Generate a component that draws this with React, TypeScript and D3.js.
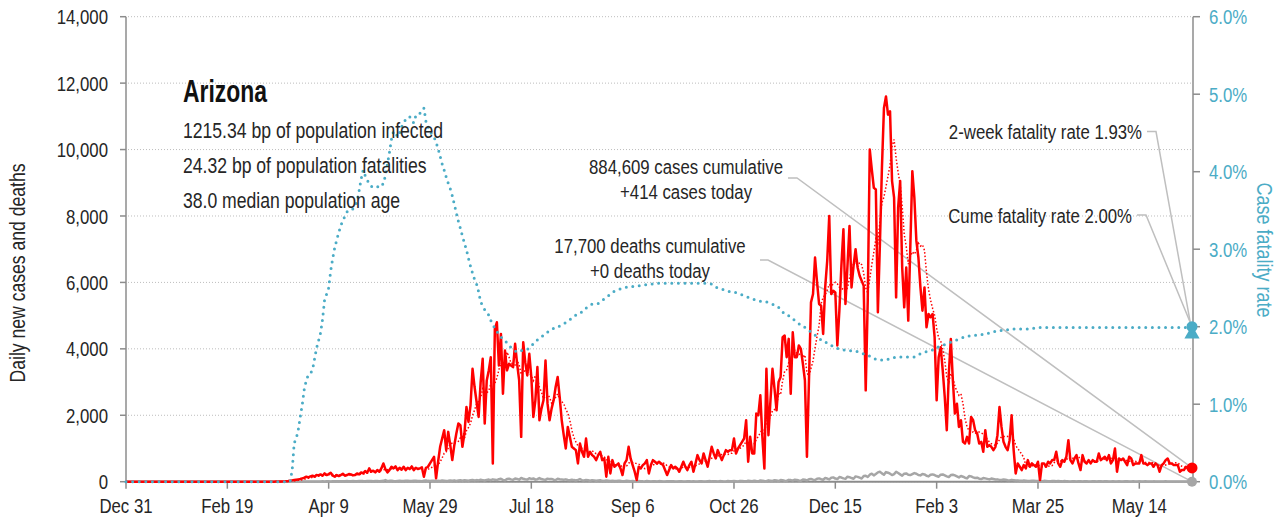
import * as d3 from 'd3'

// Arizona, daily series starting 2019-12-31
const FIRST_DAY = '2019-12-31'

const cases: number[] = [
  0,0,0,0,0,0,0,0,0,0, 0,0,0,0,0,0,0,0,0,0, 0,0,0,0,0,0,0,0,0,0,
  0,0,0,0,0,0,0,0,0,0, 0,0,0,0,0,0,0,0,0,0, 0,0,0,0,0,0,0,0,0,0,
  0,0,0,0,0,0,0,0,0,0,
  0,0,0,2,3,5,5,8,10,15,
  20,30,40,50,60,70,80,100,120,150,
  130,160,180,150,200,190,220,180,250,200,
  230,270,180,150,200,170,200,240,180,200,
  230,220,190,200,250,220,280,250,320,270,
  400,300,330,280,350,300,400,550,380,280,
  350,450,400,460,350,420,360,450,350,420,
  380,460,350,420,380,400,430,150,420,450,
  550,650,750,100,600,1050,1300,1550,950,1500,
  1100,650,1100,1450,1750,1700,1050,1450,2250,1800,
  2300,3400,2850,2400,1950,3000,3700,1750,3050,3350,
  3750,550,4600,4800,3500,4450,2650,3950,3350,3550,
  3500,3450,4150,3550,3050,1350,4200,3600,3200,3850,
  3150,1950,2450,3450,1850,2200,2450,3650,2350,1850,
  2200,2450,2850,3150,2550,1850,1400,1000,1650,1350,
  1050,1000,950,550,1150,900,750,1300,750,900,
  800,750,650,800,900,650,700,150,750,250,
  650,450,500,550,400,200,550,650,1050,700,
  500,300,50,450,400,500,550,650,250,500,
  650,600,550,600,550,500,350,200,350,500,
  400,450,400,300,450,600,450,350,500,600,
  300,550,800,650,550,850,650,450,750,1050,
  850,700,950,800,650,800,950,900,950,950,
  1300,850,1000,1100,1200,1300,1850,600,1350,850,
  850,2050,2000,2600,1350,400,3400,1400,2450,3400,
  2800,2150,3000,3150,4350,4400,3750,4300,2650,4500,
  3750,3750,4100,4000,3550,3050,750,3050,5400,5650,
  6750,6000,5350,5300,4450,5850,6650,8000,5650,5750,
  5700,4100,5150,6500,7600,5350,6500,7700,5850,6500,
  7000,6450,6200,6050,5900,2750,5450,10000,9400,8850,
  8800,5100,7150,9450,11250,11600,11050,11150,9050,8550,
  5550,8250,9050,6450,5250,6450,4850,7050,9350,8550,
  7250,6750,5850,5150,5850,4650,5050,4950,5050,4350,
  2450,3750,4050,3350,2550,1550,3250,4300,3050,2050,
  2350,1650,1850,1200,1150,1350,1150,1950,1850,1550,
  1450,1150,1200,900,1550,1050,1100,1050,950,1050,
  1400,2250,1650,1200,1050,950,1250,2000,950,250,
  550,450,350,500,400,650,450,550,500,450,
  600,50,550,550,450,600,550,650,650,900,
  550,450,650,600,750,1250,650,550,700,800,
  550,350,800,600,550,650,550,650,600,600,
  850,650,700,750,650,800,550,650,1000,300,
  700,650,700,600,500,750,700,500,550,550,
  550,800,550,550,500,550,550,450,550,500,
  300,500,550,650,700,550,550,500,500,500,
  300,350,350,450,400,350,414,
]

const deaths: number[] = [
  0,0,0,0,0,0,0,0,0,0, 0,0,0,0,0,0,0,0,0,0, 0,0,0,0,0,0,0,0,0,0,
  0,0,0,0,0,0,0,0,0,0, 0,0,0,0,0,0,0,0,0,0, 0,0,0,0,0,0,0,0,0,0,
  0,0,0,0,0,0,0,0,0,0, 0,0,0,0,0,0,0,0,0,0,
  1,0,2,1,2,3,2,4,3,5,
  4,6,5,7,8,6,9,10,8,12,
  11,9,14,12,15,10,13,16,12,18,
  14,17,20,15,12,19,22,18,16,21,
  24,19,15,20,23,17,22,26,48,18,
  25,28,21,17,24,30,22,19,27,31,
  23,18,26,29,24,20,15,28,33,25,
  21,30,27,19,32,24,35,30,22,26,
  34,28,40,25,37,42,30,45,38,29,
  44,52,36,48,40,58,47,35,55,63,
  45,70,62,48,75,88,55,40,80,92,
  70,58,95,85,60,110,90,76,64,102,
  85,98,62,75,108,80,66,55,92,78,
  84,60,50,88,72,65,58,70,52,45,
  60,48,38,55,80,42,35,50,44,30,
  46,40,28,35,42,26,20,38,32,24,
  30,22,18,28,25,15,12,26,20,14,
  18,12,8,22,16,10,6,20,14,9,
  15,12,5,18,13,9,4,16,12,10,
  14,8,3,15,11,7,5,13,10,6,
  12,9,4,16,12,8,5,14,18,10,
  15,11,6,18,14,9,7,20,16,12,
  22,15,8,25,18,12,10,28,22,16,
  30,20,12,35,28,18,14,40,32,24,
  45,36,20,50,42,30,22,55,48,35,
  60,52,38,28,65,58,40,72,85,62,
  50,90,100,75,60,110,95,70,120,130,
  95,80,140,125,100,88,150,135,110,90,
  160,145,120,95,170,180,140,210,240,190,
  230,280,300,250,210,290,270,240,200,230,
  300,260,220,180,240,250,210,200,230,260,
  240,200,190,230,220,180,160,210,220,200,
  170,150,210,220,190,160,140,200,210,190,
  160,130,170,150,120,100,170,160,130,110,
  120,90,80,110,100,85,70,95,80,65,
  70,55,50,65,60,45,40,55,45,35,
  40,30,25,38,32,24,20,30,26,18,
  22,18,12,25,20,15,10,22,18,12,
  20,15,10,18,14,10,8,16,14,9,
  15,12,7,14,11,8,5,13,10,7,
  12,10,6,14,11,7,5,12,9,6,
  11,9,5,12,10,6,4,11,8,6,
  10,8,4,12,9,6,3,10,8,5,
  9,7,4,10,8,5,3,9,7,4,
  8,6,3,9,6,4,0,
]

// case fatality rate, percent
const cfr: number[] = [
  0,0,0,0,0,0,0,0,0,0, 0,0,0,0,0,0,0,0,0,0, 0,0,0,0,0,0,0,0,0,0,
  0,0,0,0,0,0,0,0,0,0, 0,0,0,0,0,0,0,0,0,0, 0,0,0,0,0,0,0,0,0,0,
  0,0,0,0,0,0,0,0,0,0, 0,0,0,0,0,0,0,0,0,0,
  0,0,0.15,0.5,0.56,0.67,0.84,1.0,1.2,1.31,
  1.38,1.4,1.44,1.58,1.72,1.82,1.92,2.1,2.35,2.42,
  2.5,2.72,2.88,3.02,3.12,3.22,3.3,3.38,3.42,3.48,
  3.5,3.5,3.52,3.56,3.62,3.75,3.9,4.02,3.95,3.89,
  3.85,3.81,3.8,3.81,3.8,3.82,3.81,3.85,3.95,4.1,
  4.25,4.42,4.52,4.5,4.45,4.5,4.58,4.62,4.68,4.7,
  4.71,4.66,4.63,4.72,4.75,4.75,4.8,4.82,4.65,4.58,
  4.52,4.48,4.45,4.38,4.3,4.2,4.1,4.02,3.93,3.85,
  3.78,3.69,3.58,3.47,3.36,3.27,3.17,3.08,2.99,2.88,
  2.78,2.69,2.61,2.55,2.45,2.32,2.27,2.22,2.19,2.15,
  2.08,2.03,1.98,1.94,1.9,1.87,1.84,1.82,1.79,1.76,
  1.73,1.71,1.69,1.67,1.68,1.69,1.7,1.7,1.71,1.72,
  1.75,1.78,1.81,1.83,1.85,1.87,1.89,1.91,1.93,1.95,
  1.96,1.98,1.98,1.99,2.01,2.02,2.04,2.05,2.07,2.09,
  2.11,2.13,2.15,2.17,2.18,2.19,2.21,2.24,2.26,2.28,
  2.29,2.29,2.29,2.3,2.32,2.34,2.36,2.38,2.4,2.42,
  2.44,2.46,2.47,2.48,2.49,2.5,2.5,2.51,2.51,2.52,
  2.52,2.52,2.53,2.53,2.53,2.53,2.54,2.54,2.54,2.55,
  2.55,2.55,2.56,2.56,2.56,2.56,2.56,2.56,2.56,2.56,
  2.56,2.56,2.56,2.56,2.56,2.56,2.56,2.56,2.56,2.56,
  2.56,2.56,2.56,2.56,2.56,2.56,2.56,2.56,2.56,2.55,
  2.53,2.51,2.5,2.49,2.48,2.48,2.47,2.46,2.45,2.45,
  2.44,2.44,2.43,2.42,2.41,2.4,2.39,2.38,2.37,2.36,
  2.35,2.34,2.34,2.33,2.33,2.32,2.32,2.31,2.3,2.29,
  2.28,2.27,2.25,2.22,2.19,2.17,2.15,2.14,2.12,2.1,
  2.08,2.06,2.04,2.02,2.01,1.99,1.97,1.95,1.93,1.91,
  1.89,1.87,1.85,1.83,1.82,1.8,1.79,1.77,1.76,1.74,
  1.73,1.72,1.71,1.71,1.7,1.7,1.69,1.69,1.69,1.68,
  1.68,1.68,1.67,1.66,1.65,1.64,1.63,1.62,1.6,1.59,
  1.58,1.57,1.57,1.57,1.57,1.57,1.58,1.59,1.6,1.6,
  1.61,1.61,1.61,1.61,1.61,1.61,1.61,1.61,1.61,1.61,
  1.62,1.64,1.65,1.66,1.67,1.68,1.69,1.69,1.7,1.71,
  1.73,1.74,1.75,1.76,1.77,1.78,1.79,1.8,1.81,1.82,
  1.83,1.84,1.85,1.86,1.87,1.87,1.88,1.88,1.89,1.89,
  1.89,1.89,1.9,1.9,1.91,1.91,1.92,1.92,1.93,1.94,
  1.94,1.95,1.95,1.95,1.96,1.96,1.96,1.97,1.97,1.97,
  1.97,1.97,1.97,1.97,1.97,1.97,1.98,1.98,1.98,1.98,
  1.99,1.99,1.99,1.99,1.99,1.99,1.99,1.99,1.99,1.99,
  1.99,1.99,1.99,1.99,1.99,1.99,1.99,1.99,1.99,1.99,
  1.99,1.99,1.99,1.99,1.99,1.99,1.99,1.99,1.99,1.99,
  1.99,1.99,1.99,1.99,1.99,1.99,1.99,1.99,1.99,1.99,
  1.99,1.99,1.99,1.99,1.99,1.99,1.99,1.99,1.99,1.99,
  1.99,1.99,1.99,1.99,1.99,1.99,1.99,1.99,1.99,1.99,
  1.99,1.99,1.99,1.99,1.99,1.99,1.99,1.99,1.99,1.99,
  1.99,1.99,1.99,1.99,1.99,2.0,2.0,
]

const X_TICKS = [
  '2019-12-31', '2020-02-19', '2020-04-09', '2020-05-29', '2020-07-18', '2020-09-06',
  '2020-10-26', '2020-12-15', '2021-02-03', '2021-03-25', '2021-05-14',
]
const Y_LEFT_TICKS = [0, 2000, 4000, 6000, 8000, 10000, 12000, 14000]
const Y_RIGHT_TICKS = [0, 1, 2, 3, 4, 5, 6]

const STATE = 'Arizona'
const INFO_LINES = [
  '1215.34 bp of population infected',
  '24.32 bp of population fatalities',
  '38.0 median population age',
]
const CASES_CUM = 884609
const DEATHS_CUM = 17700
const CFR_2WEEK = 1.93
const CFR_CUME = 2.0

// no narrow font installed, so Liberation Sans gets squeezed horizontally
const FONT = '"Liberation Sans", Arial, sans-serif'
const SQUEEZE = 0.8
const RED = '#FF0000'
const TEAL = '#4BACC6'
const GREY = '#A6A6A6'
const AXIS = '#8C8C8C'
const LEADER = '#BFBFBF'
const INK = '#262626'

type TProps = {
  x: number
  y: number
  size: number
  anchor?: 'start' | 'middle' | 'end'
  fill?: string
  weight?: string
  rotate?: number
  sx?: number
  dy?: string
  children: React.ReactNode
}

function T({ x, y, size, anchor = 'start', fill = INK, weight, rotate, sx = SQUEEZE, dy, children }: TProps) {
  const rot = rotate ? ` rotate(${rotate})` : ''
  return (
    <text transform={`translate(${x},${y})${rot} scale(${sx},1)`} fontSize={size}
      textAnchor={anchor} fill={fill} fontWeight={weight} dy={dy}>
      {children}
    </text>
  )
}

export default function App() {
  const W = 1278
  const H = 525
  const left = 126, right = 1192, top = 16.7, bottom = 481.7

  const parse = d3.timeParse('%Y-%m-%d')
  const start = parse(FIRST_DAY) as Date
  const dates = cases.map((_, i) => d3.timeDay.offset(start, i))
  const last = cases.length - 1

  const x = d3.scaleTime().domain([start, dates[last]]).range([left, right])
  const yL = d3.scaleLinear().domain([0, 14000]).range([bottom, top])
  const yR = d3.scaleLinear().domain([0, 6]).range([bottom, top])

  // trailing 7-day mean of daily cases
  const avg7 = cases.map((_, i) => d3.mean(cases.slice(Math.max(0, i - 6), i + 1)) as number)

  const lineL = d3.line<number>().x((_, i) => x(dates[i])).y((d) => yL(d))
  const lineR = d3.line<number>().x((_, i) => x(dates[i])).y((d) => yR(d))

  const fmtDate = d3.timeFormat('%b %-d')
  const fmtNum = d3.format(',')

  const xe = x(dates[last])
  const caseEnd = yL(cases[last])
  const deathEnd = yL(deaths[last])
  const cumeEnd = yR(CFR_CUME)
  const twoWkEnd = yR(CFR_2WEEK)

  const tri = d3.symbol().type(d3.symbolTriangle).size(100)()

  return (
    <svg width={W} height={H} style={{ position: 'absolute', left: 0, top: 0, background: '#fff', fontFamily: FONT }}>
      {/* grid */}
      {Y_LEFT_TICKS.map((t) => (
        <line key={'g' + t} x1={left + 2} x2={right} y1={yL(t)} y2={yL(t)}
          stroke="#BDBDBD" strokeWidth={1} strokeDasharray="1 2" />
      ))}

      {/* leader lines */}
      <g fill="none" stroke={LEADER} strokeWidth={1.5}>
        <path d={`M788,178H797L${xe},${caseEnd}`} />
        <path d={`M760,260H768L${xe},${deathEnd}`} />
        <path d={`M1147,131.5H1156L${xe},${twoWkEnd}`} />
        <path d={`M1137,215H1146L${xe},${cumeEnd}`} />
      </g>

      {/* axes */}
      <g stroke={AXIS} strokeWidth={1.5}>
        <line x1={left} x2={left} y1={top} y2={bottom} />
        <line x1={right + 1} x2={right + 1} y1={top} y2={bottom} />
        <line x1={left} x2={right + 1} y1={bottom} y2={bottom} strokeWidth={2} />
        {Y_LEFT_TICKS.map((t) => <line key={'lt' + t} x1={left - 6} x2={left} y1={yL(t)} y2={yL(t)} />)}
        {Y_RIGHT_TICKS.map((t) => <line key={'rt' + t} x1={right + 1} x2={right + 8} y1={yR(t)} y2={yR(t)} />)}
        {X_TICKS.map((t) => {
          const xx = x(parse(t) as Date)
          return <line key={'xt' + t} x1={xx} x2={xx} y1={bottom} y2={bottom + 7} />
        })}
      </g>

      {/* series */}
      <path d={lineL(deaths) ?? ''} fill="none" stroke={GREY} strokeWidth={2.5} strokeLinejoin="round" />
      <path d={lineL(cases) ?? ''} fill="none" stroke={RED} strokeWidth={2.5} strokeLinejoin="round" />
      <path d={lineL(avg7) ?? ''} fill="none" stroke={RED} strokeWidth={1.5} strokeDasharray="1.5 2" />
      <path d={lineR(cfr) ?? ''} fill="none" stroke={TEAL} strokeWidth={3} strokeLinecap="round" strokeDasharray="0 6.6" />

      {/* end markers */}
      <circle cx={xe} cy={deathEnd} r={5} fill={GREY} />
      <circle cx={xe} cy={caseEnd} r={5.5} fill={RED} />
      <path d={tri ?? ''} transform={`translate(${xe},${twoWkEnd + 2})`} fill={TEAL} />
      <circle cx={xe} cy={cumeEnd} r={5.5} fill={TEAL} />

      {/* tick labels */}
      {Y_LEFT_TICKS.map((t) => (
        <T key={'ll' + t} x={108} y={yL(t)} dy="0.36em" size={21} anchor="end">{fmtNum(t)}</T>
      ))}
      {X_TICKS.map((t) => (
        <T key={'xl' + t} x={x(parse(t) as Date)} y={513} size={21} anchor="middle">{fmtDate(parse(t) as Date)}</T>
      ))}
      {Y_RIGHT_TICKS.map((t) => (
        <T key={'rl' + t} x={1209} y={yR(t)} dy="0.36em" size={21} fill={TEAL}>{t.toFixed(1)}%</T>
      ))}

      {/* axis titles */}
      <T x={25} y={273} rotate={-90} size={22} anchor="middle">Daily new cases and deaths</T>
      <T x={1257} y={250} rotate={90} size={22.5} anchor="middle" fill={TEAL}>Case fatality rate</T>

      {/* title block */}
      <T x={183} y={102} size={31} sx={0.74} weight="bold" fill="#111">{STATE}</T>
      {INFO_LINES.map((s, i) => (
        <T key={s} x={183} y={138 + i * 35} size={22}>{s}</T>
      ))}

      {/* annotations */}
      <T x={686} y={174} size={21} anchor="middle">{fmtNum(CASES_CUM)} cases cumulative</T>
      <T x={686} y={199} size={21} anchor="middle">+{fmtNum(cases[last])} cases today</T>
      <T x={650} y={253} size={21} anchor="middle">{fmtNum(DEATHS_CUM)} deaths cumulative</T>
      <T x={650} y={278} size={21} anchor="middle">+{fmtNum(deaths[last])} deaths today</T>
      <T x={1142} y={139} size={21} anchor="end">2-week fatality rate {CFR_2WEEK.toFixed(2)}%</T>
      <T x={1132} y={223} size={21} anchor="end">Cume fatality rate {CFR_CUME.toFixed(2)}%</T>
    </svg>
  )
}
